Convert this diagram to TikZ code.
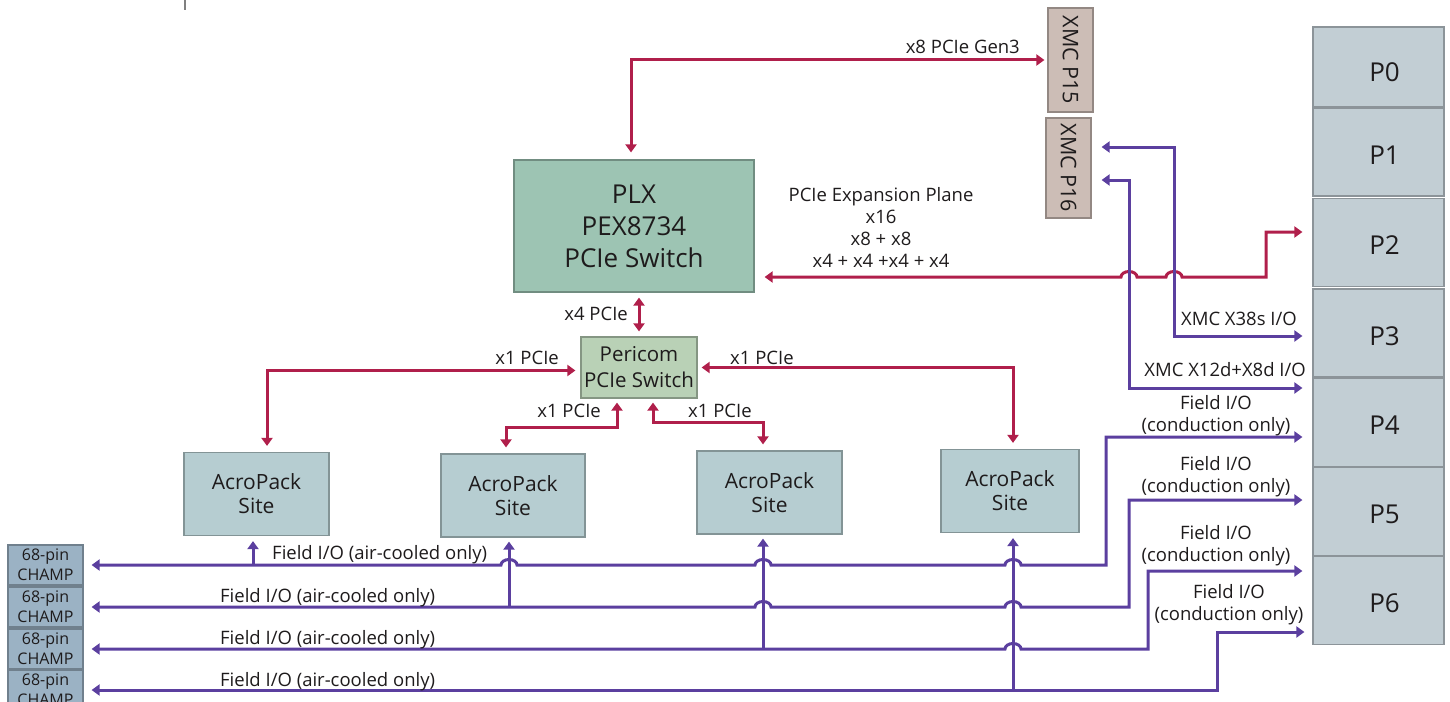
\documentclass[tikz,border=0pt]{standalone}
\usepackage{fontspec}
\setmainfont{Open Sans}
\usepackage{graphicx}
\usetikzlibrary{arrows.meta,calc}
\definecolor{plxGreen}{HTML}{9DC4B3}
\definecolor{periGreen}{HTML}{B9D1B6}
\definecolor{acroBlue}{HTML}{B6CDD1}
\definecolor{xmcTan}{HTML}{CCBDB6}
\definecolor{portGray}{HTML}{C2CED4}
\definecolor{champBlue}{HTML}{9BB2C4}
\definecolor{pcieRed}{HTML}{B01F4B}
\definecolor{fioViolet}{HTML}{5B3F9F}
\definecolor{textDark}{HTML}{1E1B1C}

\begin{document}
\begin{tikzpicture}[x=1pt,y=-1pt,
  >={Triangle[length=8pt,width=11pt]},
  every node/.style={text=textDark},
  box/.style={draw=#1!72!black, fill=#1, line width=1.2pt, align=center, inner sep=0pt},
  lbl/.style={font=\fontsize{18.5}{22}\selectfont, inner sep=0pt, align=center},
  pcie/.style={draw=pcieRed, line width=3pt},
  fio/.style={draw=fioViolet, line width=3pt}]
\useasboundingbox (0,0) rectangle (1450,701);
\draw[gray, line width=1.5pt] (185,0) -- (185,10);
% switches
\node[box=plxGreen, minimum width=240pt, minimum height=132pt, font=\fontsize{26}{32}\selectfont] (plx) at (634,226) {PLX\\PEX8734\\PCIe Switch};
\node[box=periGreen, minimum width=116pt, minimum height=61pt, font=\fontsize{20.5}{26}\selectfont] (peri) at (639,367.5) {Pericom\\PCIe Switch};
% acropack sites
\foreach \nm/\xx/\yy/\ww in {ap1/256.5/494/145, ap2/513/495.5/144, ap3/769.5/492.5/145, ap4/1010/491/138}
  \node[box=acroBlue, minimum width=\ww pt, minimum height=83pt, font=\fontsize{21}{24}\selectfont] (\nm) at (\xx,\yy) {AcroPack\\Site};
% xmc connectors
\node[box=xmcTan, minimum width=45pt, minimum height=104pt, font=\fontsize{21.5}{24}\selectfont] (xmc15) at (1070.5,60) {\rotatebox{-90}{XMC P15}};
\node[box=xmcTan, minimum width=45pt, minimum height=100pt, font=\fontsize{21.5}{24}\selectfont] (xmc16) at (1068.5,168) {\rotatebox{-90}{XMC P16}};
% backplane P0..P6
\node[box=portGray, minimum width=131pt, minimum height=80pt] (p0) at (1378.5,67) {};
\node[font=\fontsize{26}{30}\selectfont] (p0t) at ([xshift=6pt,yshift=-5pt]p0) {P0};
\foreach \i/\yy in {1/152, 2/242.5, 3/333, 4/422.5, 5/511.5, 6/600.5} {
  \node[box=portGray, minimum width=131pt, minimum height=88pt] (p\i) at (1378.5,\yy) {};
  \node[font=\fontsize{26}{30}\selectfont] (p\i t) at ([xshift=6pt,yshift=-3pt]p\i) {P\i};
}
% champ connectors
\foreach \i/\yy in {1/565, 2/607, 3/649, 4/690}
  \node[box=champBlue, minimum width=75pt, minimum height=40pt, font=\fontsize{16}{20}\selectfont] (c\i) at (45.5,\yy) {68-pin\\CHAMP};

% pcie links
\draw[pcie,<->,shorten <=7pt,shorten >=3pt] ([xshift=-3pt]plx.north) |- (xmc15.west);
\node[lbl,anchor=east] (gen3) at (1020,47) {x8 PCIe Gen3};
\draw[pcie,<->,shorten <=5pt,shorten >=5pt] (peri.north) -- (peri.north |- plx.south);
\node[lbl,anchor=east] (x4) at (628,314) {x4 PCIe};
\draw[pcie,<->,shorten <=6pt,shorten >=5pt] ([xshift=10.5pt]ap1.north) |- ([yshift=-3pt]peri.west);
\node[lbl,anchor=east] (x1a) at (559,358) {x1 PCIe};
\draw[pcie,<->,shorten <=4pt,shorten >=6pt] ([xshift=-22pt]peri.south) -- ++(0,29) -| ([xshift=-7pt]ap2.north);
\node[lbl,anchor=east] (x1b) at (601,411) {x1 PCIe};
\draw[pcie,<->,shorten <=4pt,shorten >=6pt] ([xshift=14pt]peri.south) -- ++(0,24) -| ([xshift=-6.5pt]ap3.north);
\node[lbl,anchor=west] (x1c) at (688,411) {x1 PCIe};
\draw[pcie,<->,shorten <=4pt,shorten >=6pt] (peri.east) -| ([xshift=3pt]ap4.north);
\node[lbl,anchor=west] (x1d) at (730,358) {x1 PCIe};
\draw[pcie,<->,shorten <=10pt,shorten >=10pt] ([yshift=-51pt]plx.east) -- (1121,277)
  arc[start angle=180,end angle=0,x radius=8pt,y radius=5.5pt] -- (1166,277)
  arc[start angle=180,end angle=0,x radius=8pt,y radius=5.5pt] -- (1266,277) |- ([yshift=10.5pt]p2.west);
\node[lbl] (expan) at (881,227) {PCIe Expansion Plane\\x16\\x8 + x8\\x4 + x4 +x4 + x4};

% xmc i/o
\draw[fio,<->,shorten <=10pt,shorten >=10pt] ([yshift=21pt]xmc16.east) -| (1174,336) -- ([yshift=-3pt]p3.west);
\node[lbl,anchor=east] (x38) at (1297,319) {XMC X38s I/O};
\draw[fio,<->,shorten <=10pt,shorten >=10pt] ([yshift=-12pt]xmc16.east) -| (1129,388) -- ([yshift=34.5pt]p4.west);
\node[lbl,anchor=east] (x12) at (1306,370) {XMC X12d+X8d I/O};

% field i/o buses
\draw[fio,<->,shorten <=8pt,shorten >=10pt] (c1.east) -- (501,565)
  arc[start angle=180,end angle=0,x radius=8pt,y radius=5.5pt] -- (755,565)
  arc[start angle=180,end angle=0,x radius=8pt,y radius=5.5pt] -- (1005,565)
  arc[start angle=180,end angle=0,x radius=8pt,y radius=5.5pt] -- (1106,565) |- ([yshift=-14.5pt]p4.west);
\draw[fio,<->,shorten <=8pt,shorten >=10pt] (c2.east) -- (755,607)
  arc[start angle=180,end angle=0,x radius=8pt,y radius=5.5pt] -- (1005,607)
  arc[start angle=180,end angle=0,x radius=8pt,y radius=5.5pt] -- (1129,607) |- ([yshift=11.5pt]p5.west);
\draw[fio,<->,shorten <=8pt,shorten >=10pt] (c3.east) -- (1005,649)
  arc[start angle=180,end angle=0,x radius=8pt,y radius=5.5pt] -- (1148,649) |- ([yshift=29.5pt]p6.west);
\draw[fio,<->,shorten <=8pt,shorten >=8pt] (c4.east) -- (1217,690) |- ([yshift=-31.5pt]p6.west);
\draw[fio,<-,shorten <=5pt] ([xshift=-3.5pt]ap1.south) -- ++(0,30);
\draw[fio,<-,shorten <=4pt] ([xshift=-4pt]ap2.south) -- ++(0,70);
\draw[fio,<-,shorten <=4pt] ([xshift=-6.5pt]ap3.south) -- ++(0,115);
\draw[fio,<-,shorten <=5pt] ([xshift=3pt]ap4.south) -- ++(0,158);
\node[lbl,anchor=west] (fa) at (272,555) {Field I/O (air-cooled only)};
\node[lbl,anchor=west] (fb) at (220,598) {Field I/O (air-cooled only)};
\node[lbl,anchor=west] (fc) at (220,640) {Field I/O (air-cooled only)};
\node[lbl,anchor=west] (fd) at (220,682) {Field I/O (air-cooled only)};
\node[lbl] (cd1) at (1216,416) {Field I/O\\(conduction only)};
\node[lbl] (cd2) at (1216,477) {Field I/O\\(conduction only)};
\node[lbl] (cd3) at (1216,546) {Field I/O\\(conduction only)};
\node[lbl] (cd4) at (1229,605) {Field I/O\\(conduction only)};
\end{tikzpicture}
\end{document}
